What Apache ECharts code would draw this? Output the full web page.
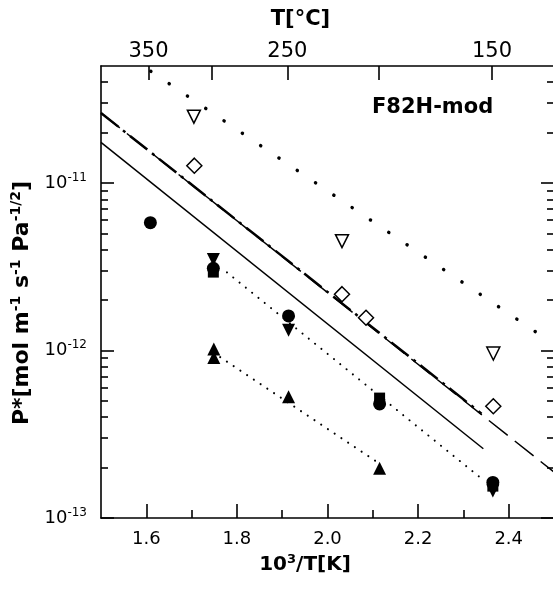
<!DOCTYPE html>
<html>
<head>
<meta charset="utf-8">
<script src="https://cdn.jsdelivr.net/npm/echarts@6/dist/echarts.min.js"></script>
<style>
html, body { margin: 0; padding: 0; background: #fff; }
#permChart { width: 553px; height: 593px; }
</style>
</head>
<body>
<div id="permChart"></div>
<script>
// measured points, x = 10^3/T[K], y = P*
var openDownX = [1.705, 2.032, 2.366];
var openDownY = [2.49e-11, 4.5e-12, 9.6e-13];
var diamondX = [1.706, 2.032, 2.085, 2.366];
var diamondY = [1.27e-11, 2.17e-12, 1.57e-12, 4.65e-13];
var circleX = [1.609, 1.748, 1.914, 2.115, 2.365];
var circleY = [5.8e-12, 3.1e-12, 1.61e-12, 4.8e-13, 1.63e-13];
var squareX = [1.748, 2.115, 2.365];
var squareY = [2.94e-12, 5.2e-13, 1.55e-13];
var downX = [1.748, 1.914, 2.365];
var downY = [3.49e-12, 1.32e-12, 1.45e-13];
var upX = [1.749, 1.749, 1.914, 2.115];
var upY = [1.02e-12, 9.1e-13, 5.3e-13, 1.98e-13];

// fitted lines (end points)
var solidX = [1.5, 2.344];
var solidY = [1.75e-11, 2.59e-13];
var dashX = [1.5, 2.5];
var dashY = [2.62e-11, 1.88e-13];
var dashDotX = [1.5, 2.34];
var dashDotY = [2.62e-11, 4.2e-13];
var bigDotX = [1.61, 2.46];
var bigDotY = [4.65e-11, 1.29e-12];
var fit1X = [1.778, 2.34];
var fit1Y = [2.93e-12, 1.72e-13];
var fit2X = [1.763, 2.105];
var fit2Y = [9.14e-13, 2.2e-13];

// axes
var xMin = 1.5, xMax = 2.5;
var yMin = 1e-13, yMax = 5e-11;
var xLabels = [1.6, 1.8, 2.0, 2.2, 2.4];
var xMinor = [1.7, 1.9, 2.1, 2.3];
var topTicksC = [350, 300, 250, 200, 150];
var topLabelsC = [350, 250, 150];
var yExp = [-13, -12, -11];
var yMant = [2, 3, 4, 5, 6, 7, 8, 9];

var FONT = 'DejaVu Sans';

function pairs(xs, ys) {
  return xs.map(function (x, i) { return [x, ys[i]]; });
}
function toInvT(c) { return 1000 / (c + 273.15); }

var logMax = Math.log10(yMax);
var yMinorLog = [];
yExp.forEach(function (e) {
  yMant.forEach(function (m) {
    var v = e + Math.log10(m);
    if (v < logMax) yMinorLog.push(v);
  });
});

var tickStyle = { color: '#000', width: 1.6 };

function tickAxis(pos, vals, len) {
  return {
    type: 'value', position: pos, min: -13, max: logMax,
    axisLine: { show: false },
    axisTick: { show: true, inside: true, length: len, customValues: vals, lineStyle: tickStyle },
    axisLabel: { show: false },
    splitLine: { show: false }
  };
}

var yLeftMajor = tickAxis('left', yExp, 13);
yLeftMajor.axisLabel = {
  show: true, customValues: yExp, margin: 14,
  formatter: function (v) { return '{a|10}{b|' + Math.round(v) + '}'; },
  rich: {
    a: { fontFamily: FONT, fontSize: 18, color: '#000' },
    b: { fontFamily: FONT, fontSize: 12, color: '#000', padding: [0, 0, 11, 0] }
  }
};
yLeftMajor.name = '{a|P*[mol m}{s|-1}{a| s}{s|-1}{a| Pa}{s|-1/2}{a|]}';
yLeftMajor.nameLocation = 'middle';
yLeftMajor.nameRotate = 90;
yLeftMajor.nameGap = 66;
yLeftMajor.nameTextStyle = {
  padding: [0, 22, 0, 0],
  rich: {
    a: { fontFamily: FONT, fontSize: 22, fontWeight: 'bold', color: '#000' },
    s: { fontFamily: FONT, fontSize: 14, fontWeight: 'bold', color: '#000', padding: [0, 0, 12, 0] }
  }
};

var bigDots = { type: [0.1, 22], width: 3.5, cap: 'round', color: '#000' };
var fineDots = { type: [0.1, 8], width: 2, cap: 'round', color: '#000' };

function lineSeries(xs, ys, style) {
  return {
    type: 'line', data: pairs(xs, ys), showSymbol: false, symbol: 'none',
    lineStyle: style, silent: true, z: 2
  };
}
function markSeries(xs, ys, symbol, size, filled, rotate) {
  return {
    type: 'scatter', data: pairs(xs, ys), symbol: symbol, symbolSize: size,
    symbolRotate: rotate || 0, z: 5,
    itemStyle: filled
      ? { color: '#000', opacity: 1 }
      : { color: '#fff', borderColor: '#000', borderWidth: 1.5, opacity: 1 }
  };
}

var chart = echarts.init(document.getElementById('permChart'));
chart.setOption({
  animation: false,
  backgroundColor: '#fff',
  grid: { left: 101, right: -1, top: 66, bottom: 75, containLabel: false, outerBoundsMode: 'none' },
  graphic: [{
    type: 'text', left: 372, top: 97,
    style: { text: 'F82H-mod', font: 'bold 21px "DejaVu Sans"', fill: '#000' }
  }],
  xAxis: [
    {
      type: 'value', position: 'bottom', min: xMin, max: xMax,
      axisLine: { lineStyle: tickStyle },
      axisTick: { inside: true, length: 14, customValues: xLabels, lineStyle: tickStyle },
      axisLabel: {
        customValues: xLabels, margin: 12, color: '#000', fontFamily: FONT, fontSize: 18,
        formatter: function (v) { return v.toFixed(1); }
      },
      splitLine: { show: false },
      name: '{a|10}{s|3}{a|/T[K]}', nameLocation: 'middle', nameGap: 32,
      nameTextStyle: {
        padding: [0, 45, 0, 0],
        rich: {
          a: { fontFamily: FONT, fontSize: 20, fontWeight: 'bold', color: '#000' },
          s: { fontFamily: FONT, fontSize: 13, fontWeight: 'bold', color: '#000', padding: [0, 0, 10, 0] }
        }
      }
    },
    {
      type: 'value', position: 'bottom', min: xMin, max: xMax,
      axisLine: { show: false },
      axisTick: { inside: true, length: 8, customValues: xMinor, lineStyle: tickStyle },
      axisLabel: { show: false },
      splitLine: { show: false }
    },
    {
      type: 'value', position: 'top', min: xMin, max: xMax,
      axisLine: { lineStyle: tickStyle },
      axisTick: { inside: true, length: 14, customValues: topTicksC.map(toInvT), lineStyle: tickStyle },
      axisLabel: {
        customValues: topLabelsC.map(toInvT), margin: 4, color: '#000', fontFamily: FONT, fontSize: 21,
        formatter: function (v) { return Math.round(1000 / v - 273.15); }
      },
      splitLine: { show: false },
      name: 'T[°C]', nameLocation: 'middle', nameGap: 36,
      nameTextStyle: { fontFamily: FONT, fontSize: 21, fontWeight: 'bold', color: '#000', padding: [0, 54, 0, 0] }
    }
  ],
  yAxis: [
    {
      type: 'log', position: 'left', min: yMin, max: yMax,
      axisLine: { show: true, lineStyle: tickStyle },
      axisTick: { show: false }, axisLabel: { show: false }, splitLine: { show: false }
    },
    yLeftMajor,
    tickAxis('left', yMinorLog, 7),
    tickAxis('right', yExp, 13),
    tickAxis('right', yMinorLog, 7)
  ],
  series: [
    lineSeries(solidX, solidY, { type: 'solid', width: 1.5, color: '#000' }),
    lineSeries(dashX, dashY, { type: [24, 9], width: 1.5, color: '#000' }),
    lineSeries(dashDotX, dashDotY, { type: [22, 6, 3, 6], width: 2.5, color: '#000' }),
    lineSeries(bigDotX, bigDotY, bigDots),
    lineSeries(fit1X, fit1Y, fineDots),
    lineSeries(fit2X, fit2Y, fineDots),
    markSeries(openDownX, openDownY, 'triangle', 13, false, 180),
    markSeries(diamondX, diamondY, 'diamond', 15, false),
    markSeries(squareX, squareY, 'rect', 11, true),
    markSeries(circleX, circleY, 'circle', 13, true),
    markSeries(upX, upY, 'triangle', 13, true),
    markSeries(downX, downY, 'triangle', 13, true, 180)
  ]
});
</script>
</body>
</html>
